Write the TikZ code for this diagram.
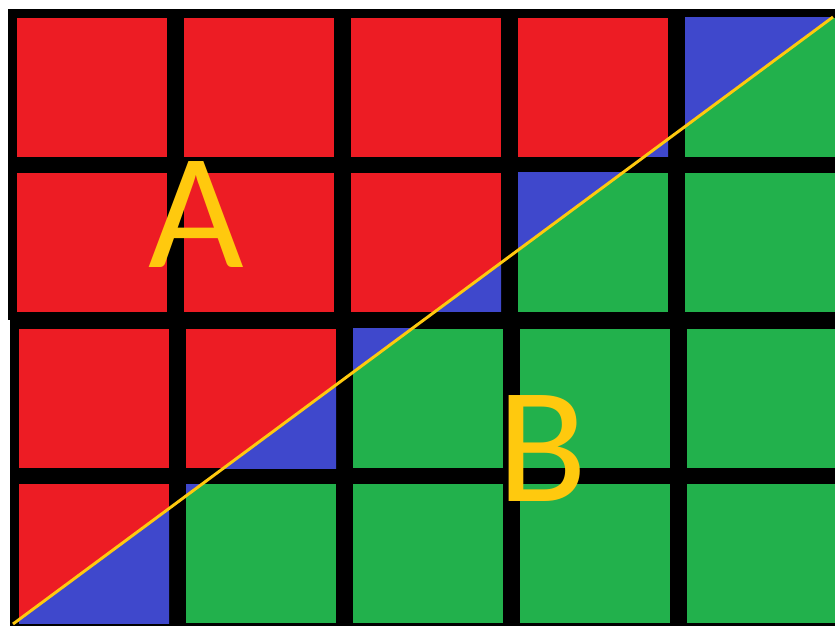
\documentclass[tikz,border=0pt]{standalone}
\usepackage{fontspec}
\setmainfont{Carlito}
\definecolor{cellred}{HTML}{ED1C24}
\definecolor{cellgreen}{HTML}{22B14C}
\definecolor{cellblue}{HTML}{3F48CC}
\definecolor{lineyellow}{HTML}{FFC90E}
\tikzset{
  biglabel/.style={text=lineyellow,inner sep=0pt,font=\fontsize{141}{141}\selectfont},
  border/.style={lineyellow,line width=2.5pt}
}
\begin{document}
\begin{tikzpicture}[x=0.03cm,y=-0.03cm]
\useasboundingbox (0,0) rectangle (835,626);
\fill[white] (0,0) rectangle (835,626);
% the two halves are pasted, slightly shifted
\fill[black] (8,9) rectangle (835,320);
\fill[black] (10,318) rectangle (835,626);
\coordinate (p0) at (13,624);
\coordinate (p1) at (833,17);
\foreach \yo/\xo in {18/17,173/17,329/19,484/19}
{
  \foreach \c in {0,...,4}
  {
    \pgfmathsetmacro{\xa}{\xo+167*\c}
    \pgfmathsetmacro{\xb}{\xa+150}
    \pgfmathsetmacro{\yb}{\yo+139}
    \pgfmathsetmacro{\ymid}{624-0.7402*(\xa+75-13)}
    \pgfmathtruncatemacro{\isA}{(\yo+69.5)<\ymid}
    \ifnum\isA=1
      \fill[cellred] (\xa,\yo) rectangle (\xb,\yb);
      \begin{scope}
        \clip (\xa,\yo) rectangle (\xb,\yb);
        \fill[cellblue] (p0) -- (p1) -- (900,17) -- (900,700) -- (0,700) -- cycle;
      \end{scope}
    \else
      \fill[cellgreen] (\xa,\yo) rectangle (\xb,\yb);
      \begin{scope}
        \clip (\xa,\yo) rectangle (\xb,\yb);
        \fill[cellblue] (p0) -- (p1) -- (833,-50) -- (-50,-50) -- (-50,624) -- cycle;
      \end{scope}
    \fi
  }
}
\draw[border] (p0) -- (p1);
\node[biglabel] (labA) at (196,215) {A};
\node[biglabel] (labB) at (542,449) {B};
\end{tikzpicture}
\end{document}
